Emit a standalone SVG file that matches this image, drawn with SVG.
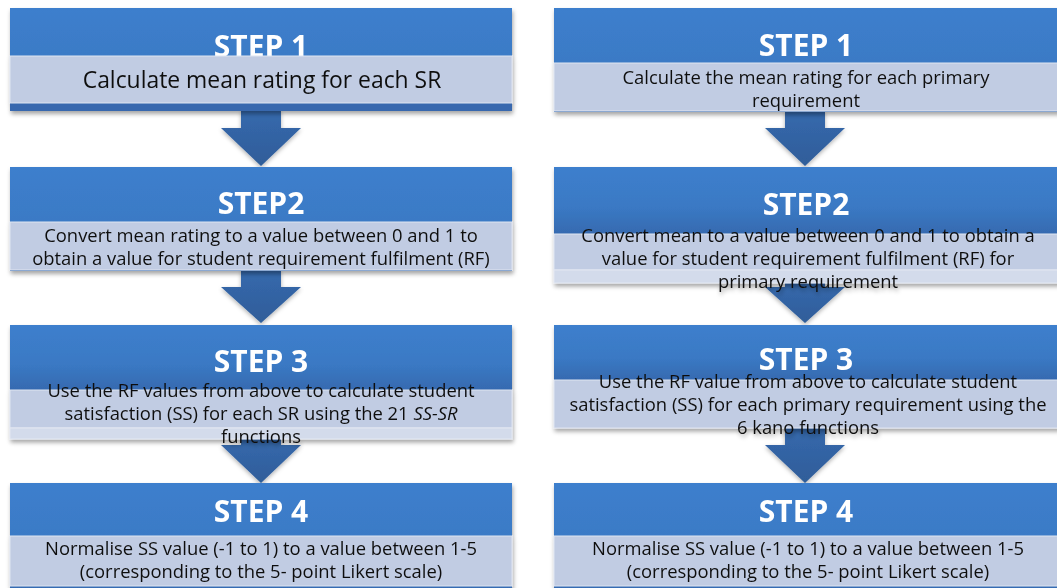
<svg xmlns="http://www.w3.org/2000/svg" width="1057" height="588" viewBox="0 0 1057 588">
<defs>
<linearGradient id="hdr" x1="0" y1="0" x2="0" y2="1">
<stop offset="0" stop-color="#3d7fcd"/>
<stop offset="0.6" stop-color="#3a79c4"/>
<stop offset="1" stop-color="#366ab0"/>
</linearGradient>
<linearGradient id="arr" x1="0" y1="0" x2="0" y2="1">
<stop offset="0" stop-color="#3669ad"/>
<stop offset="1" stop-color="#2f5d99"/>
</linearGradient>
<filter id="sh" x="-5%" y="-10%" width="110%" height="130%">
<feDropShadow dx="1" dy="3" stdDeviation="2" flood-color="#000" flood-opacity="0.35"/>
</filter>
<filter id="ash" x="-20%" y="-20%" width="140%" height="140%">
<feDropShadow dx="0" dy="2" stdDeviation="2" flood-color="#000" flood-opacity="0.3"/>
</filter>
</defs>
<style>
.hdr{fill:url(#hdr);}
.strip{fill:#3768ae;}
.lt{fill:#c1cce3;stroke:#dfe5f1;stroke-width:1;}
.ov{fill:#d3dbeb;stroke:#e3e8f2;stroke-width:1;}
.arrow{fill:url(#arr);filter:url(#ash);}
.st{font-family:"Open Sans","Liberation Sans",sans-serif;font-weight:bold;font-size:30px;fill:#ffffff;text-anchor:middle;}
.tx{font-family:"Open Sans","Liberation Sans",sans-serif;font-size:18.4px;fill:#111111;text-anchor:middle;}
.big{font-size:22.9px;}
</style>

<g id="connectors">
<polygon class="arrow" points="241,110 281,110 281,128 301,128 261,166 221,128 241,128"/>
<polygon class="arrow" points="241,270 281,270 281,287 301,287 261,323 221,287 241,287"/>
<polygon class="arrow" points="241,438 281,438 281,445 301,445 261,483 221,445 241,445"/>
<polygon class="arrow" points="785,111 825,111 825,128 845,128 805,166 765,128 785,128"/>
<polygon class="arrow" points="785,282 825,282 825,287 845,287 805,323 765,287 785,287"/>
<polygon class="arrow" points="785,427 825,427 825,445 845,445 805,483 765,445 785,445"/>
</g>

<g id="left-step1" filter="url(#sh)">
<rect class="hdr" x="10" y="8" width="502" height="103"/>
<text class="st" x="261" y="57">STEP 1</text>
<rect class="strip" x="10" y="103" width="502" height="8"/>
<rect class="lt" x="10" y="56" width="502" height="47"/>
<text class="tx big" x="262" y="88">Calculate mean rating for each SR</text>
</g>

<g id="left-step2" filter="url(#sh)">
<rect class="hdr" x="10" y="167" width="502" height="104"/>
<text class="st" x="261" y="214">STEP2</text>
<rect class="lt" x="10" y="222" width="502" height="48"/>
<text class="tx" x="261" y="242">Convert mean rating to a value between 0 and 1 to</text>
<text class="tx" x="261" y="265">obtain a value for student requirement fulfilment (RF)</text>
</g>

<g id="left-step3" filter="url(#sh)">
<rect class="hdr" x="10" y="325" width="502" height="65"/>
<text class="st" x="261" y="372">STEP 3</text>
<rect class="lt" x="10" y="390" width="502" height="38"/>
<rect class="ov" x="10" y="428" width="502" height="11"/>
<text class="tx" x="261" y="397">Use the RF values from above to calculate student</text>
<text class="tx" x="261" y="420">satisfaction (SS) for each SR using the 21 <tspan font-style="italic">SS-SR</tspan></text>
<text class="tx" x="261" y="443">functions</text>
</g>

<g id="left-step4" filter="url(#sh)">
<rect class="hdr" x="10" y="483" width="502" height="110"/>
<text class="st" x="261" y="522">STEP 4</text>
<rect class="lt" x="10" y="536" width="502" height="50"/>
<text class="tx" x="261" y="555">Normalise SS value (-1 to 1) to a value between 1-5</text>
<text class="tx" x="261" y="578">(corresponding to the 5- point Likert scale)</text>
</g>

<g id="right-step1" filter="url(#sh)">
<rect class="hdr" x="554" y="8" width="506" height="104"/>
<text class="st" x="806" y="56">STEP 1</text>
<rect class="lt" x="554" y="63" width="506" height="48"/>
<text class="tx" x="806" y="84">Calculate the mean rating for each primary</text>
<text class="tx" x="806" y="107">requirement</text>
</g>

<g id="right-step2" filter="url(#sh)">
<rect class="hdr" x="554" y="167" width="506" height="67"/>
<text class="st" x="806" y="215">STEP2</text>
<rect class="lt" x="554" y="234" width="506" height="36"/>
<rect class="ov" x="554" y="270" width="506" height="13"/>
<text class="tx" x="808" y="242">Convert mean to a value between 0 and 1 to obtain a</text>
<text class="tx" x="808" y="265">value for student requirement fulfilment (RF) for</text>
<text class="tx" x="808" y="288">primary requirement</text>
</g>

<g id="right-step3" filter="url(#sh)">
<rect class="hdr" x="554" y="325" width="506" height="55"/>
<text class="st" x="806" y="370">STEP 3</text>
<rect class="lt" x="554" y="380" width="506" height="48"/>
<text class="tx" x="808" y="388">Use the RF value from above to calculate student</text>
<text class="tx" x="808" y="411">satisfaction (SS) for each primary requirement using the</text>
<text class="tx" x="808" y="434">6 kano functions</text>
</g>

<g id="right-step4" filter="url(#sh)">
<rect class="hdr" x="554" y="483" width="506" height="110"/>
<text class="st" x="806" y="522">STEP 4</text>
<rect class="lt" x="554" y="536" width="506" height="50"/>
<text class="tx" x="808" y="555">Normalise SS value (-1 to 1) to a value between 1-5</text>
<text class="tx" x="808" y="578">(corresponding to the 5- point Likert scale)</text>
</g>
</svg>
